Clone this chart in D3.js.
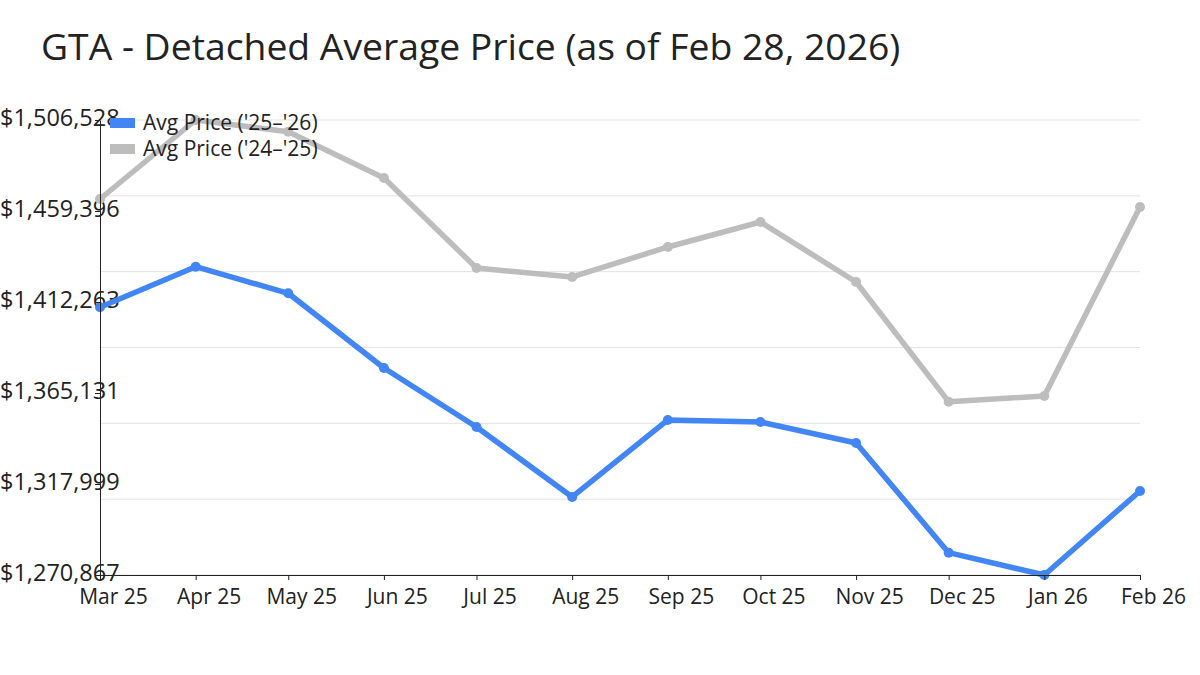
<!DOCTYPE html>
<html><head><meta charset="utf-8">
<script src="https://cdn.jsdelivr.net/npm/d3@7"></script>
<style>
body{margin:0;background:#fff;}
text{font-family:"Open Sans",sans-serif;fill:#222;}
</style></head>
<body><svg id="c" width="1200" height="675"></svg>
<script>
const months = ["2025-03-01","2025-04-01","2025-05-01","2025-06-01","2025-07-01","2025-08-01","2025-09-01","2025-10-01","2025-11-01","2025-12-01","2026-01-01","2026-02-01"];
const tickLabels = ["Mar 25","Apr 25","May 25","Jun 25","Jul 25","Aug 25","Sep 25","Oct 25","Nov 25","Dec 25","Jan 26","Feb 26"];
const price2526 = [1409500,1430550,1416780,1378090,1347530,1311280,1351160,1350120,1339250,1282430,1270867,1314390];
const price2425 = [1465610,1506528,1500470,1476490,1429880,1425220,1440760,1453700,1422630,1360640,1363590,1461470];
const yMin = 1270867, yMax = 1506528;
const yTickLabels = ["$1,270,867","$1,317,999","$1,365,131","$1,412,263","$1,459,396","$1,506,528"];
const seriesNames = ["Avg Price ('25\u2013'26)","Avg Price ('24\u2013'25)"];
const colors = ["#4285F4","#BDBDBD"];

const svg = d3.select("#c");
const parse = d3.timeParse("%Y-%m-%d");
const dates = months.map(parse);
const L=100,R=1140,T=120,B=575;
const x = d3.scaleTime().domain([dates[0], dates[dates.length-1]]).range([L,R]);
const y = d3.scaleLinear().domain([yMin,yMax]).range([B,T]);

svg.append("text").attr("x",41).attr("y",60).attr("font-size",37.3).text("GTA - Detached Average Price (as of Feb 28, 2026)");

// gridlines (6 intervals)
const gridVals = d3.range(7).map(i=>yMin+(yMax-yMin)*i/6);
svg.append("g").selectAll("line").data(gridVals).join("line")
  .attr("x1",L).attr("x2",R).attr("y1",d=>y(d)).attr("y2",d=>y(d))
  .attr("stroke","#e3e3e3").attr("stroke-width",1);

// y labels (5 intervals)
const labelVals = d3.range(6).map(i=>yMin+(yMax-yMin)*i/5);
svg.append("g").selectAll("text").data(labelVals).join("text")
  .attr("x",0).attr("y",d=>y(d)).attr("dy","0.27em").attr("font-size",23.5).text((d,i)=>yTickLabels[i]);

// lines
const line = d3.line().x((d,i)=>x(dates[i])).y(d=>y(d));
[price2425, price2526].forEach((arr,k)=>{
  const c = k===0?colors[1]:colors[0];
  svg.append("path").datum(arr).attr("d",line).attr("fill","none")
    .attr("stroke",c).attr("stroke-width",5.5).attr("stroke-linejoin","round");
  svg.append("g").selectAll("circle").data(arr).join("circle")
    .attr("cx",(d,i)=>x(dates[i])).attr("cy",d=>y(d)).attr("r",5).attr("fill",c);
});

// axes
const xAxis = d3.axisBottom(x).tickValues(dates).tickFormat((d,i)=>tickLabels[i]).tickSize(5).tickSizeOuter(0);
const gx = svg.append("g").attr("transform",`translate(0,${B})`).call(xAxis);
gx.select(".domain").attr("stroke","#222");
gx.selectAll(".tick line").attr("stroke","#222");
gx.selectAll("text").attr("font-size",21).attr("font-family","Open Sans").attr("fill","#222")
  .attr("dx",13).attr("y",10).attr("dy","0.9em");
const yAxis = d3.axisLeft(y).tickValues(labelVals).tickFormat("").tickSize(5).tickSizeOuter(0);
const gy = svg.append("g").attr("transform",`translate(${L},0)`).call(yAxis);
gy.select(".domain").attr("stroke","#222");
gy.selectAll(".tick line").attr("stroke","#222");

// legend
const lg = svg.append("g");
seriesNames.forEach((n,i)=>{
  lg.append("rect").attr("x",110).attr("y",118+i*26).attr("width",25).attr("height",10).attr("fill",colors[i]);
  lg.append("text").attr("x",143).attr("y",123+i*26).attr("dy","0.35em").attr("font-size",21).text(n);
});
</script></body></html>
